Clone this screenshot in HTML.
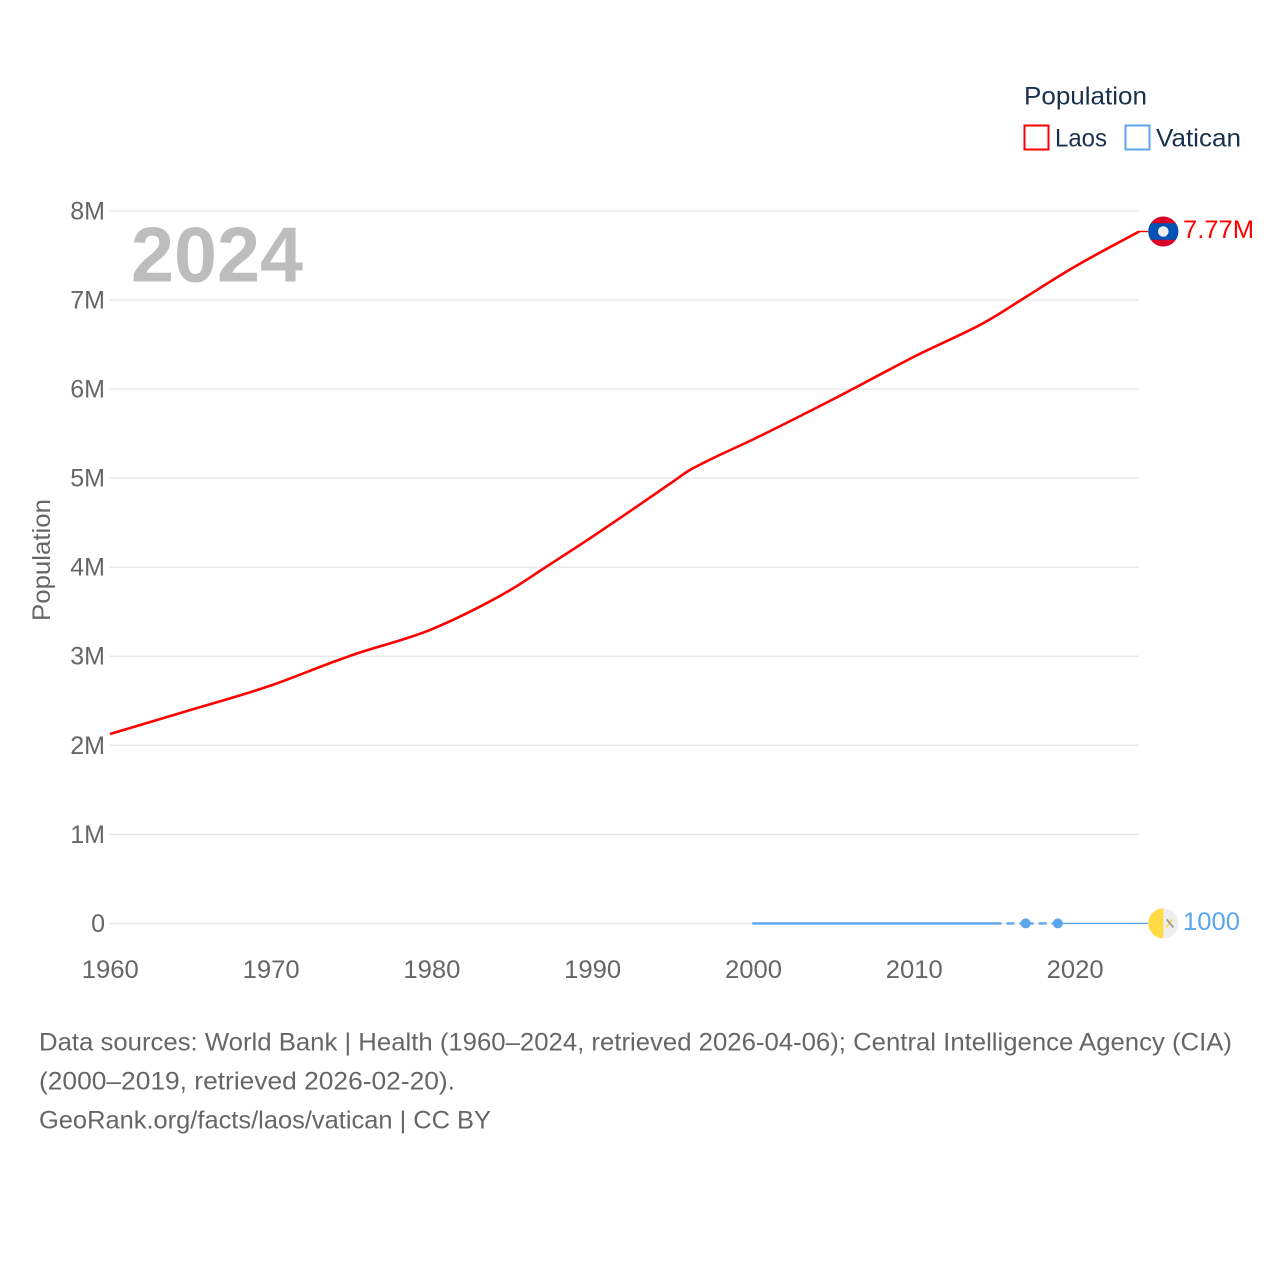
<!DOCTYPE html>
<html lang="en">
<head>
<meta charset="utf-8">
<title>Population: Laos and Vatican</title>
<style>
html,body{margin:0;padding:0;background:#fff;}
svg{display:block;}
text{font-family:"Liberation Sans",sans-serif;}
</style>
</head>
<body>
<svg id="chart" xmlns="http://www.w3.org/2000/svg" width="1280" height="1280" viewBox="0 0 1280 1280">
  <rect width="1280" height="1280" fill="#fff"/>
  <g id="grid"></g>
  <g id="yticks"></g>
  <g id="xticks"></g>
  <text transform="translate(50,621) rotate(-90)" font-size="25" fill="#666" textLength="122" lengthAdjust="spacingAndGlyphs">Population</text>
  <text x="131" y="281.5" font-size="78" font-weight="700" fill="#bdbdbd" textLength="172" lengthAdjust="spacingAndGlyphs">2024</text>
  <g id="series"></g>
  <g id="ends"></g>

  <g>
    <text x="1024" y="104.5" font-size="25" fill="#18304f" textLength="123" lengthAdjust="spacingAndGlyphs">Population</text>
    <rect x="1024.5" y="125.5" width="24" height="24" fill="none" stroke="#ff0000" stroke-width="2"/>
    <text x="1055" y="146.5" font-size="25" fill="#18304f" textLength="52" lengthAdjust="spacingAndGlyphs">Laos</text>
    <rect x="1125.5" y="125.5" width="24" height="24" fill="none" stroke="#5ca6ee" stroke-width="2"/>
    <text x="1156" y="146.5" font-size="25" fill="#18304f" textLength="85" lengthAdjust="spacingAndGlyphs">Vatican</text>
  </g>

  <g font-size="25" fill="#666">
    <text x="39" y="1050.3" textLength="1193" lengthAdjust="spacingAndGlyphs">Data sources: World Bank | Health (1960–2024, retrieved 2026-04-06); Central Intelligence Agency (CIA)</text>
    <text x="39" y="1089.3" textLength="416" lengthAdjust="spacingAndGlyphs">(2000–2019, retrieved 2026-02-20).</text>
    <text x="39" y="1128.3" textLength="452" lengthAdjust="spacingAndGlyphs">GeoRank.org/facts/laos/vatican | CC BY</text>
  </g>
</svg>
<script>
var yTickValues = [0, 1000000, 2000000, 3000000, 4000000, 5000000, 6000000, 7000000, 8000000];
var yTickLabels = ["0", "1M", "2M", "3M", "4M", "5M", "6M", "7M", "8M"];
var xTickYears = [1960, 1970, 1980, 1990, 2000, 2010, 2020];
var laosYears = [1960, 1965, 1970, 1974, 1975, 1980, 1983, 1985, 1987, 1990, 1992, 1995, 1996, 1997, 2000, 2005, 2010, 2015, 2016, 2017, 2020, 2024];
var laosValues = [2128000, 2397000, 2672000, 2945000, 3010000, 3303000, 3557000, 3756000, 3990000, 4343000, 4587000, 4960000, 5085000, 5180000, 5436000, 5889000, 6364000, 6813000, 6926000, 7040000, 7375000, 7770000];
var vaticanYears = [2000, 2001, 2002, 2003, 2004, 2005, 2006, 2007, 2008, 2009, 2010, 2011, 2012, 2013, 2014, 2015, 2017, 2019];
var vaticanValues = [900, 900, 900, 900, 900, 900, 900, 800, 800, 800, 800, 800, 800, 800, 840, 840, 1000, 1000];
var laosEndLabel = "7.77M";
var vaticanEndLabel = "1000";

var NS = "http://www.w3.org/2000/svg";
function xScale(year) { return 110 + (year - 1960) * 16.08; }
function yScale(value) { return 923.5 - value * 89.06 / 1000000; }
function make(tag, parent, props) {
  var el = document.createElementNS(NS, tag);
  for (var k in props) { el.setAttribute(k, props[k]); }
  parent.appendChild(el);
  return el;
}
function smoothPath(pts) {
  var n = pts.length, m = [], i;
  for (i = 0; i < n; i++) {
    if (i === 0) {
      m[i] = (pts[1][1] - pts[0][1]) / (pts[1][0] - pts[0][0]);
    } else if (i === n - 1) {
      m[i] = (pts[i][1] - pts[i - 1][1]) / (pts[i][0] - pts[i - 1][0]);
    } else {
      var h0 = pts[i][0] - pts[i - 1][0], h1 = pts[i + 1][0] - pts[i][0];
      var d0 = (pts[i][1] - pts[i - 1][1]) / h0, d1 = (pts[i + 1][1] - pts[i][1]) / h1;
      m[i] = (d0 * h1 + d1 * h0) / (h0 + h1);
    }
  }
  var d = "M" + pts[0][0].toFixed(2) + "," + pts[0][1].toFixed(2);
  for (i = 0; i < n - 1; i++) {
    var h = (pts[i + 1][0] - pts[i][0]) / 3;
    d += "C" + (pts[i][0] + h).toFixed(2) + "," + (pts[i][1] + m[i] * h).toFixed(2) +
         " " + (pts[i + 1][0] - h).toFixed(2) + "," + (pts[i + 1][1] - m[i + 1] * h).toFixed(2) +
         " " + pts[i + 1][0].toFixed(2) + "," + pts[i + 1][1].toFixed(2);
  }
  return d;
}

var gridG = document.getElementById("grid");
var yG = document.getElementById("yticks");
var xG = document.getElementById("xticks");
var seriesG = document.getElementById("series");
var endsG = document.getElementById("ends");

yTickValues.forEach(function (v, i) {
  var line = make("line", gridG, { x1: 109, x2: 1139, y1: yScale(v), y2: yScale(v), stroke: "#e9e9e9", "stroke-width": 1.5 });
  
  
  var t = make("text", yG, { x: 105, y: yScale(v) + 8.4, "text-anchor": "end", "font-size": 25, fill: "#666" });
  t.textContent = yTickLabels[i];
  
  
});

xTickYears.forEach(function (yr) {
  var t = make("text", xG, { x: xScale(yr) + 0.3, y: 978, "text-anchor": "middle", "font-size": 25, fill: "#666", textLength: 57, lengthAdjust: "spacingAndGlyphs" });
  t.textContent = String(yr);
  
  
});

/* Vatican series: consecutive years are solid, gaps in the record are dashed */
var vaticanG = make("g", seriesG, { transform: "translate(-0.9,0)" });


var solidD = "";
vaticanYears.forEach(function (yr, i) {
  if (i === 0) { return; }
  var x0 = xScale(vaticanYears[i - 1]), y0 = yScale(vaticanValues[i - 1]);
  var x1 = xScale(yr), y1 = yScale(vaticanValues[i]);
  if (yr - vaticanYears[i - 1] === 1) {
    solidD += "M" + x0 + "," + y0 + "L" + x1 + "," + y1;
  } else {
    var dash = make("line", vaticanG, { x1: x0, y1: y0, x2: x1, y2: y1, stroke: "#5ca6ee", "stroke-width": 2.4, "stroke-dasharray": "8 5" });
    
    
  }
});
var vaticanSolid = make("path", vaticanG, { d: solidD, fill: "none", stroke: "#5ca6ee", "stroke-width": 2.4 });


vaticanYears.forEach(function (yr, i) {
  var prev = vaticanYears[i - 1], next = vaticanYears[i + 1];
  var joinedBefore = prev !== undefined && yr - prev === 1;
  var joinedAfter = next !== undefined && next - yr === 1;
  if (!joinedBefore && !joinedAfter) {
    var dot = make("circle", vaticanG, { cx: xScale(yr), cy: yScale(vaticanValues[i]), r: 5, fill: "#5ca6ee" });
    
    
  }
});

/* Laos series */
var laosPts = laosYears.map(function (yr, i) { return [xScale(yr), yScale(laosValues[i])]; });
var laosLine = make("path", seriesG, { d: smoothPath(laosPts), fill: "none", stroke: "#ff0000", "stroke-width": 2.6, "stroke-linejoin": "round" });



/* End labels and flags */
var laosLast = laosPts[laosPts.length - 1];
var laosY = laosLast[1];
var laosConn = make("path", endsG, { d: "M" + laosLast[0] + "," + laosY + "L1148," + laosY, fill: "none", style: "stroke:#ff0000;stroke-width:1.4" });


var laosFlag = make("g", endsG, { transform: "translate(1163.3," + laosY + ")" });


make("circle", laosFlag, { r: 15, fill: "#d80027" });
make("path", laosFlag, { d: "M-12.5,-8.3A15,15 0 0 0 -12.5,8.3L12.5,8.3A15,15 0 0 0 12.5,-8.3Z", fill: "#0052b4" });
make("circle", laosFlag, { r: 5.3, fill: "#eeeeee" });
var laosText = make("text", endsG, { x: 1183, y: laosY + 6.5, "font-size": 25, fill: "#ff0000", textLength: 71, lengthAdjust: "spacingAndGlyphs" });
laosText.textContent = laosEndLabel;



var vatLastX = xScale(vaticanYears[vaticanYears.length - 1]) - 0.9;
var vatY = yScale(vaticanValues[vaticanValues.length - 1]);
var vatConn = make("path", endsG, { d: "M" + vatLastX + "," + vatY + "L1148," + vatY, fill: "none", style: "stroke:#5ca6ee;stroke-width:1.4" });


var vatFlag = make("g", endsG, { transform: "translate(1163.3," + vatY + ")" });


make("circle", vatFlag, { r: 15, fill: "#eeeeee" });
make("path", vatFlag, { d: "M0,-15A15,15 0 0 0 0,15Z", fill: "#ffda44" });
make("path", vatFlag, { d: "M3,4L9,-4", fill: "none", style: "stroke:#ffda44;stroke-width:1.8" });
make("path", vatFlag, { d: "M3.5,-4L10,4", fill: "none", style: "stroke:#9a9a9a;stroke-width:1.8" });
var vatText = make("text", endsG, { x: 1183, y: vatY + 6.4, "font-size": 25, fill: "#5ca6ee", textLength: 57, lengthAdjust: "spacingAndGlyphs" });
vatText.textContent = vaticanEndLabel;


</script>
</body>
</html>
